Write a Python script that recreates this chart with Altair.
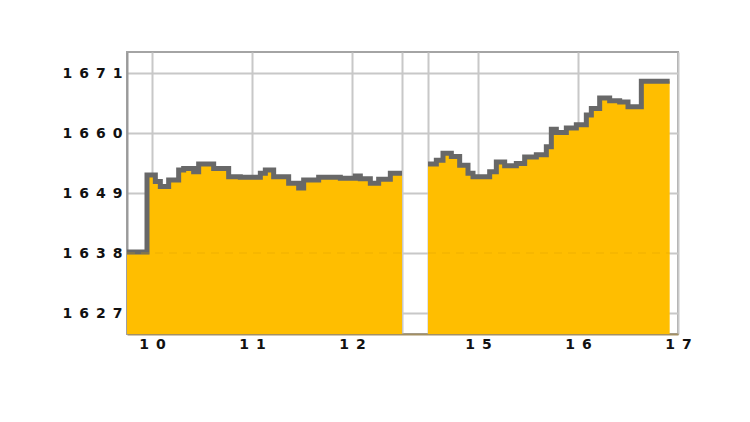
import altair as alt
import pandas as pd

# ---- data ----
times_am = ["09:45", "09:57", "10:02", "10:05", "10:10", "10:16", "10:19", "10:25",
            "10:28", "10:37", "10:46", "10:53", "11:05", "11:08", "11:13", "11:22",
            "11:28", "11:31", "11:40", "11:53", "12:02", "12:05", "12:11", "12:16",
            "12:23", "12:30"]
vals_am = [1638.2, 1652.3, 1651.1, 1650.2, 1651.4, 1653.2, 1653.5, 1652.9,
           1654.3, 1653.5, 1652.0, 1651.9, 1652.6, 1653.2, 1652.0, 1650.8,
           1649.9, 1651.4, 1651.9, 1651.7, 1652.1, 1651.6, 1650.8, 1651.5,
           1652.6, 1652.6]

times_pm = ["14:30", "14:35", "14:39", "14:44", "14:49", "14:54", "14:57", "15:07",
            "15:11", "15:16", "15:23", "15:28", "15:35", "15:41", "15:44", "15:47",
            "15:53", "15:59", "16:05", "16:08", "16:13", "16:19", "16:25", "16:30",
            "16:38", "16:55"]
vals_pm = [1654.3, 1655.0, 1656.3, 1655.7, 1654.1, 1652.6, 1652.0, 1652.9,
           1654.7, 1654.0, 1654.4, 1655.6, 1656.0, 1657.5, 1660.7, 1660.1,
           1660.9, 1661.5, 1663.3, 1664.5, 1666.4, 1665.9, 1665.7, 1664.8,
           1669.5, 1669.5]

prev_close = 1638
y_ticks = [1627, 1638, 1649, 1660, 1671]
x_tick_hours = [10, 11, 12, 15, 16, 17]
gap_start, gap_end = 12.5, 14.5   # lunch break (hours)
gap_shown = 0.26                   # width of break on the axis, hours

shift = (gap_end - gap_start) - gap_shown


def to_pos(h):
    return h if h <= gap_start else h - shift


def hours(t):
    hh, mm = t.split(":")
    return int(hh) + int(mm) / 60


def frame(times, vals):
    return pd.DataFrame({"pos": [to_pos(hours(t)) for t in times], "price": vals})


df_am = frame(times_am, vals_am)
df_pm = frame(times_pm, vals_pm)
df_ref = pd.DataFrame({
    "start": [df_am["pos"].min(), df_pm["pos"].min()],
    "end": [df_am["pos"].max(), df_pm["pos"].max()],
    "price": [prev_close, prev_close],
})

tick_pos = [to_pos(h) for h in x_tick_hours] + [gap_start, gap_start + gap_shown]
label_map = {round(to_pos(h), 2): str(h) for h in x_tick_hours}
sp = "\u2002"
label_expr = "".join(
    f"abs(datum.value - {p}) < 0.01 ? '{sp.join(list(s))}' : " for p, s in label_map.items()
) + "''"

x_dom = [9.75, to_pos(17)]
y_dom = [1623.15, 1674.85]
x_scale = alt.Scale(domain=x_dom, nice=False, zero=False)
y_scale = alt.Scale(domain=y_dom, nice=False, zero=False)

font = dict(labelFont="DejaVu Sans", labelFontWeight="bold", labelFontSize=14,
            labelColor="#111111", gridColor="#c8c8c8", gridWidth=2)

x = alt.X("pos:Q", scale=x_scale,
          axis=alt.Axis(values=tick_pos, labelExpr=label_expr, title=None,
                        labelPadding=3, ticks=False, domainColor="#a39064",
                        domainWidth=2, labelFlush=False, **font))
y = alt.Y("price:Q", scale=y_scale, stack=None,
          axis=alt.Axis(values=y_ticks, title=None, ticks=False,
                        labelExpr=f"join(split(datum.label, ''), '{sp}')",
                        labelPadding=5, domainColor="#9a9a9a", domainWidth=2,
                        format="d", **font))


def session(df):
    return alt.Chart(df).mark_area(
        interpolate="step-after", color="#FFBE00", opacity=1, clip=True,
        line={"color": "#686868", "strokeWidth": 5, "interpolate": "step-after"},
    ).encode(x=x, y=y)


ref = alt.Chart(df_ref).mark_rule(
    color="#D9A200", strokeDash=[8, 6], strokeWidth=1, opacity=0.45
).encode(x=alt.X("start:Q", scale=x_scale), x2="end:Q",
         y=alt.Y("price:Q", scale=y_scale))

chart = alt.layer(session(df_am), session(df_pm), ref).properties(
    width=551, height=282,
    autosize=alt.AutoSizeParams(type="none"),
    padding={"left": 119, "top": 44, "right": 40, "bottom": 60},
    background="white",
).configure_view(
    stroke="#a4a4a4", strokeWidth=2
)

chart.save("out.html", embed_options={"renderer": "svg", "actions": False})
